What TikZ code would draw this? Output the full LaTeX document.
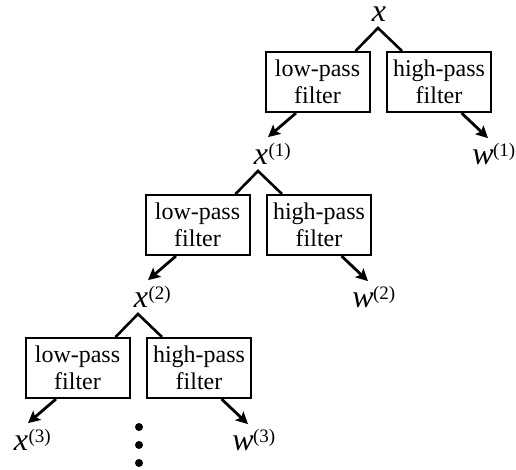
\documentclass[tikz,border=0pt]{standalone}
\usepackage{fontspec}
\setmainfont{Liberation Serif}
\usetikzlibrary{arrows.meta,calc}
\begin{document}
\begin{tikzpicture}[x=1pt,y=-1pt,
 filt/.style={draw,line width=2pt,minimum width=104pt,minimum height=60pt,inner sep=0pt,align=center,font=\fontsize{24}{27}\selectfont},
 conn/.style={line width=2.6pt},
 arr/.style={line width=2.8pt,-{Stealth[length=12pt,width=12pt,inset=2.5pt]}},
 var/.style={inner sep=0pt,anchor=base,font=\fontsize{32}{32}\selectfont\itshape},
 supr/.style={inner sep=0pt,anchor=base west,font=\fontsize{19}{19}\selectfont},
 bigdot/.style={circle,fill,inner sep=0pt,minimum size=8pt}]
\useasboundingbox (0,0) rectangle (516,469);
\node[var] (x0) at (379,21) {x};
\foreach \i/\ax/\ay in {1/378/28, 2/258/171, 3/138/314} {
  \coordinate (a\i) at (\ax,\ay);
  \node[filt] (lp\i) at (\ax-60.5,\ay+54) {low-pass\\filter};
  \node[filt] (hp\i) at (\ax+61,\ay+54) {high-pass\\filter};
  \draw[conn] ($(lp\i.north east)+(-15,0)$) -- (a\i) -- ($(hp\i.north west)+(16,0)$);
  \node[var] (x\i) at (\ax-117,\ay+136) {x};
  \node[supr] (xs\i) at ($(x\i.base east)+(0,-8)$) {(\i)};
  \node[var] (w\i) at (\ax+105,\ay+136) {w};
  \node[supr] (ws\i) at ($(w\i.base east)+(-1,-8)$) {(\i)};
  \draw[arr] ($(lp\i.south)+(-21.5,0)$) -- ($(x\i.north)+(7,-12)$);
  \draw[arr] ($(hp\i.south)+(22.5,0)$) -- ($(w\i.north)+(5,-11)$);
}
\node[bigdot] (d1) at (139,427) {};
\node[bigdot] (d2) at (139,445) {};
\node[bigdot] (d3) at (139,463) {};
\end{tikzpicture}
\end{document}
